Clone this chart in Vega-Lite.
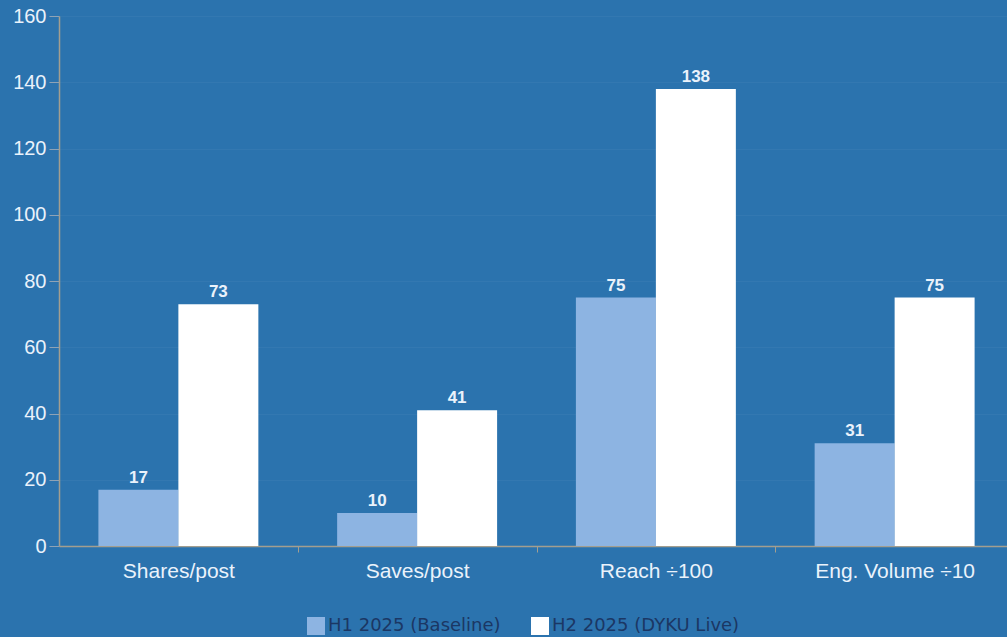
{
  "$schema": "https://vega.github.io/schema/vega-lite/v6.json",
  "autosize": {"type": "none"},
  "padding": {"left": 59, "top": 16, "right": 0, "bottom": 91},
  "width": 955,
  "height": 530,
  "background": "#2b73ae",
  "config": {
    "view": {"stroke": null},
    "font": "Liberation Sans"
  },
  "data": {
    "values": [
      {"metric": "Shares/post", "period": "H1 2025 (Baseline)", "value": 17},
      {"metric": "Shares/post", "period": "H2 2025 (DYKU Live)", "value": 73},
      {"metric": "Saves/post", "period": "H1 2025 (Baseline)", "value": 10},
      {"metric": "Saves/post", "period": "H2 2025 (DYKU Live)", "value": 41},
      {"metric": "Reach ÷100", "period": "H1 2025 (Baseline)", "value": 75},
      {"metric": "Reach ÷100", "period": "H2 2025 (DYKU Live)", "value": 138},
      {"metric": "Eng. Volume ÷10", "period": "H1 2025 (Baseline)", "value": 31},
      {"metric": "Eng. Volume ÷10", "period": "H2 2025 (DYKU Live)", "value": 75}
    ]
  },
  "encoding": {
    "x": {
      "field": "metric",
      "type": "nominal",
      "sort": null,
      "scale": {"paddingInner": 0.33, "paddingOuter": 0.165},
      "axis": {
        "title": null,
        "labelAngle": 0,
        "labelFontSize": 21,
        "labelColor": "#eaf2fb",
        "labelPadding": 8,
        "domainColor": "#a39e8f",
        "domainWidth": 1.5,
        "tickColor": "#a39e8f",
        "tickOffset": 119.4,
        "labelOffset": -119.4,
        "tickSize": 6
      }
    },
    "xOffset": {"field": "period", "type": "nominal", "sort": null},
    "y": {
      "field": "value",
      "type": "quantitative",
      "scale": {"domain": [0, 160], "nice": false},
      "axis": {
        "title": null,
        "values": [0, 20, 40, 60, 80, 100, 120, 140, 160],
        "labelFontSize": 20,
        "labelColor": "#eaf2fb",
        "labelPadding": 3,
        "tickSize": 10,
        "tickColor": "#8ea3b6",
        "domainColor": "#a39e8f",
        "domainWidth": 1.5,
        "grid": true,
        "gridColor": "#ffffff",
        "gridOpacity": 0.04
      }
    }
  },
  "layer": [
    {
      "mark": {"type": "bar"},
      "encoding": {
        "color": {
          "field": "period",
          "type": "nominal",
          "sort": null,
          "scale": {"domain": ["H1 2025 (Baseline)", "H2 2025 (DYKU Live)"], "range": ["#8db4e2", "#ffffff"]},
          "legend": {
            "title": null,
            "orient": "none",
            "direction": "horizontal",
            "legendX": 248,
            "legendY": 601,
            "symbolType": "square",
            "symbolSize": 324,
            "symbolStrokeWidth": 0,
            "symbolOpacity": 1,
            "labelFontSize": 18,
            "labelFont": "DejaVu Sans",
            "labelColor": "#1b3764",
            "labelLimit": 400,
            "labelOffset": 3,
            "columnPadding": 30
          }
        }
      }
    },
    {
      "mark": {"type": "text", "baseline": "bottom", "dy": -3, "fontSize": 17, "fontWeight": "bold", "color": "#eaf2fb"},
      "encoding": {
        "text": {"field": "value", "type": "quantitative"}
      }
    }
  ]
}
